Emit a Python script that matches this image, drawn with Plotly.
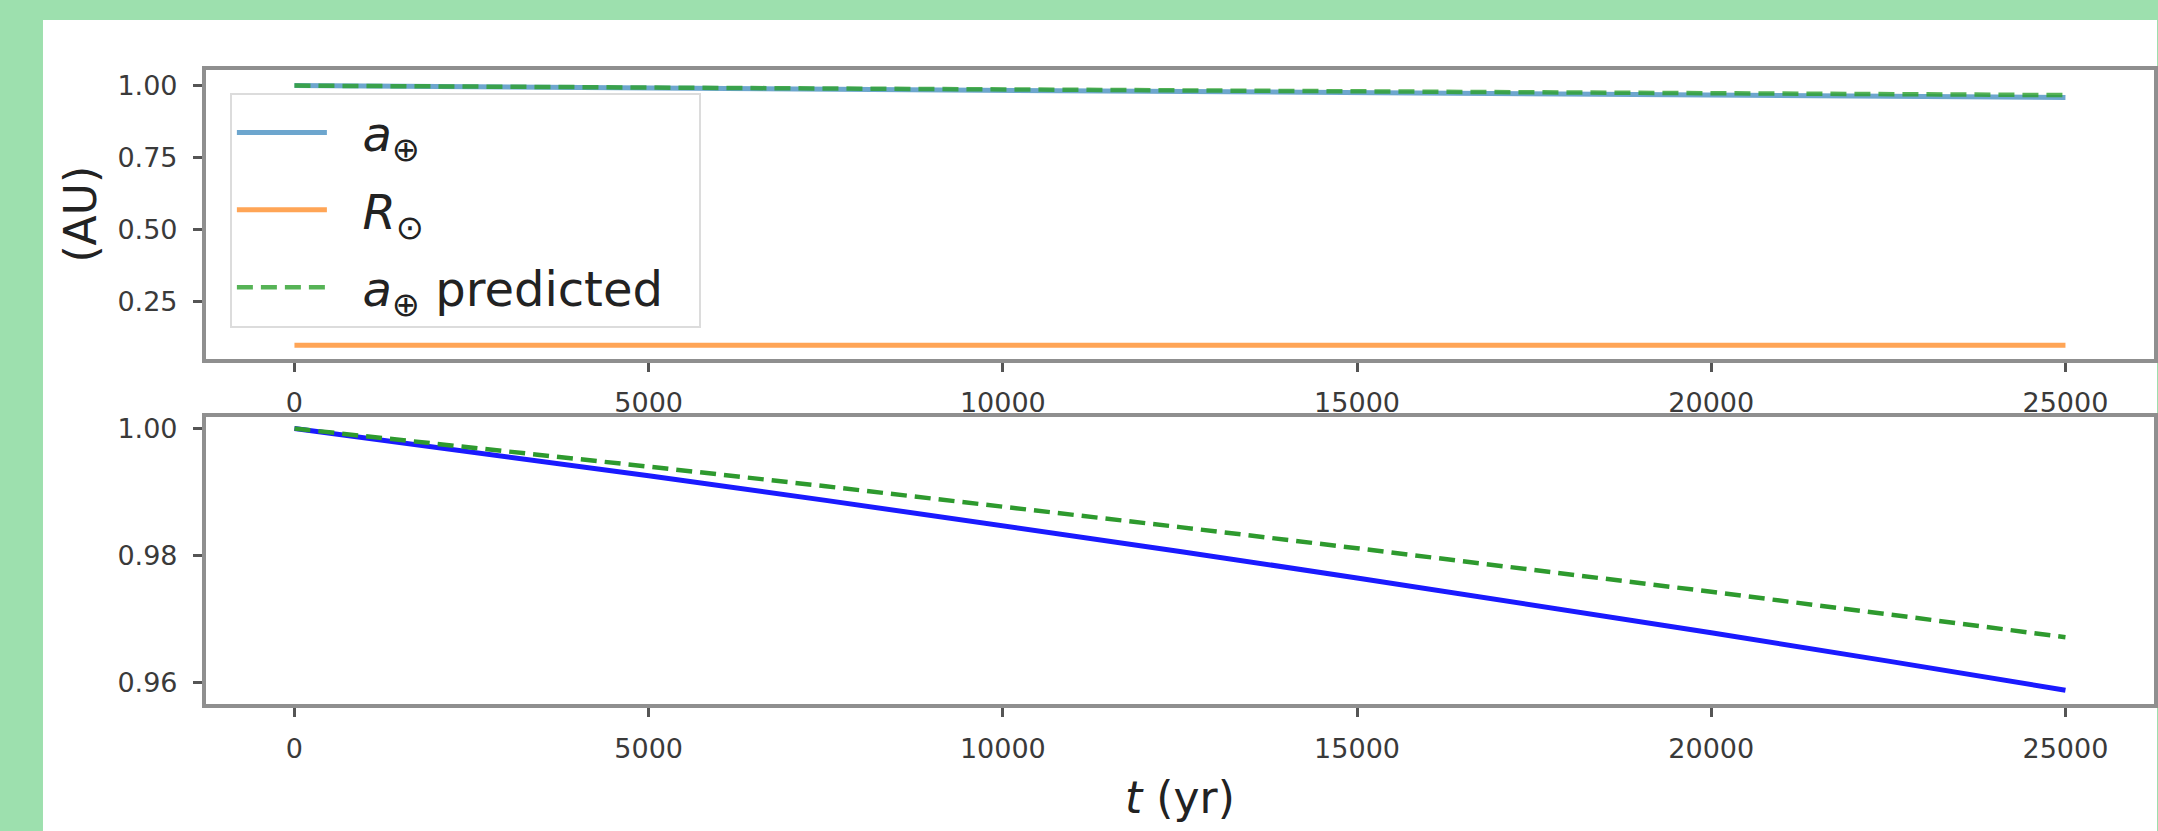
import plotly.graph_objects as go

# ---- data ----
t_yr = [0, 2500, 5000, 7500, 10000, 12500, 15000, 17500, 20000, 22500, 25000]
a_earth = [1.0, 0.99633, 0.99255, 0.98868, 0.98470, 0.98063, 0.97645, 0.97218, 0.96780, 0.96333, 0.95875]
a_pred = [1.0, 0.99704, 0.99400, 0.99090, 0.98772, 0.98446, 0.98113, 0.97773, 0.97426, 0.97071, 0.96710]
r_sun = [0.10, 0.10, 0.10, 0.10, 0.10, 0.10, 0.10, 0.10, 0.10, 0.10, 0.10]

top_yticks = [0.25, 0.50, 0.75, 1.00]
top_ylabels = ["0.25", "0.50", "0.75", "1.00"]
bot_yticks = [0.96, 0.98, 1.00]
bot_ylabels = ["0.96", "0.98", "1.00"]
xticks = [0, 5000, 10000, 15000, 20000, 25000]
xtick_labels = ["0", "5000", "10000", "15000", "20000", "25000"]

W, H = 2158, 831
FONT = "DejaVu Sans"
GAP = "\u00a0\u00a0"

fig = go.Figure()

# top panel
fig.add_trace(go.Scatter(x=t_yr, y=a_earth, mode="lines", name=GAP + "<i>a</i><sub>⊕</sub>",
                         line=dict(color="rgba(31,119,180,0.65)", width=5),
                         legendgroup="g1", xaxis="x", yaxis="y"))
fig.add_trace(go.Scatter(x=t_yr, y=r_sun, mode="lines", name=GAP + "<i>R</i><sub>⊙</sub>",
                         line=dict(color="rgba(255,127,14,0.7)", width=5),
                         legendgroup="g2", xaxis="x", yaxis="y"))
fig.add_trace(go.Scatter(x=t_yr, y=a_pred, mode="lines",
                         name=GAP + "<i>a</i><sub>⊕</sub> predicted\u00a0\u00a0",
                         line=dict(color="rgba(44,160,44,0.8)", width=4.5, dash="16px,8px"),
                         legendgroup="g3", xaxis="x", yaxis="y"))
# bottom panel
fig.add_trace(go.Scatter(x=t_yr, y=a_earth, mode="lines", showlegend=False,
                         line=dict(color="#1a1aff", width=5), xaxis="x2", yaxis="y2"))
fig.add_trace(go.Scatter(x=t_yr, y=a_pred, mode="lines", showlegend=False,
                         line=dict(color="#2e9a2e", width=4.5, dash="16px,8px"), xaxis="x2", yaxis="y2"))

axis_common = dict(showline=True, mirror=True, linecolor="#8f8f8f", linewidth=4,
                   ticks="outside", ticklen=9, tickwidth=3, tickcolor="#555555",
                   showgrid=False, zeroline=False,
                   tickfont=dict(family=FONT, size=27, color="#3a3a3a"))

x_dom = [206 / W, 2155 / W]
top_dom = [1 - 357 / H, 1 - 67 / H]
bot_dom = [1 - 704 / H, 1 - 415 / H]

fig.update_layout(
    width=W, height=H,
    margin=dict(l=0, r=0, t=0, b=0),
    paper_bgcolor="#9de0ae",
    plot_bgcolor="white",
    font=dict(family=FONT, color="#222222"),
    xaxis=dict(domain=x_dom, range=[-1250, 26250], tickvals=xticks, ticktext=xtick_labels,
               anchor="y", ticklabelstandoff=8, **axis_common),
    yaxis=dict(domain=top_dom, range=[0.053, 1.055], tickvals=top_yticks, ticktext=top_ylabels,
               anchor="x", ticklabelstandoff=10,
               title=dict(text="(AU)", font=dict(family=FONT, size=44, color="#222222"), standoff=8),
               **axis_common),
    xaxis2=dict(domain=x_dom, range=[-1250, 26250], tickvals=xticks, ticktext=xtick_labels,
                anchor="y2", ticklabelstandoff=8,
                title=dict(text="<i>t</i> (yr)", font=dict(family=FONT, size=44, color="#222222"), standoff=20),
                **axis_common),
    yaxis2=dict(domain=bot_dom, range=[0.9565, 1.0019], tickvals=bot_yticks, ticktext=bot_ylabels,
                anchor="x2", ticklabelstandoff=10, **axis_common),
    legend=dict(x=230 / W, y=1 - 90 / H, xanchor="left", yanchor="top",
                bgcolor="white", bordercolor="#dcdcdc", borderwidth=2,
                font=dict(family=FONT, size=48, color="#222222"),
                traceorder="grouped", tracegroupgap=12, itemwidth=90),
    shapes=[dict(type="rect", xref="paper", yref="paper", x0=43 / W, x1=1, y0=0, y1=1 - 17 / H,
                 fillcolor="white", line=dict(width=0), layer="below")],
)

fig.write_html("out.html",
               config={"displayModeBar": False},
               post_script="document.documentElement.style.margin='0';document.body.style.margin='0';"
                           "document.body.style.overflow='hidden';")
